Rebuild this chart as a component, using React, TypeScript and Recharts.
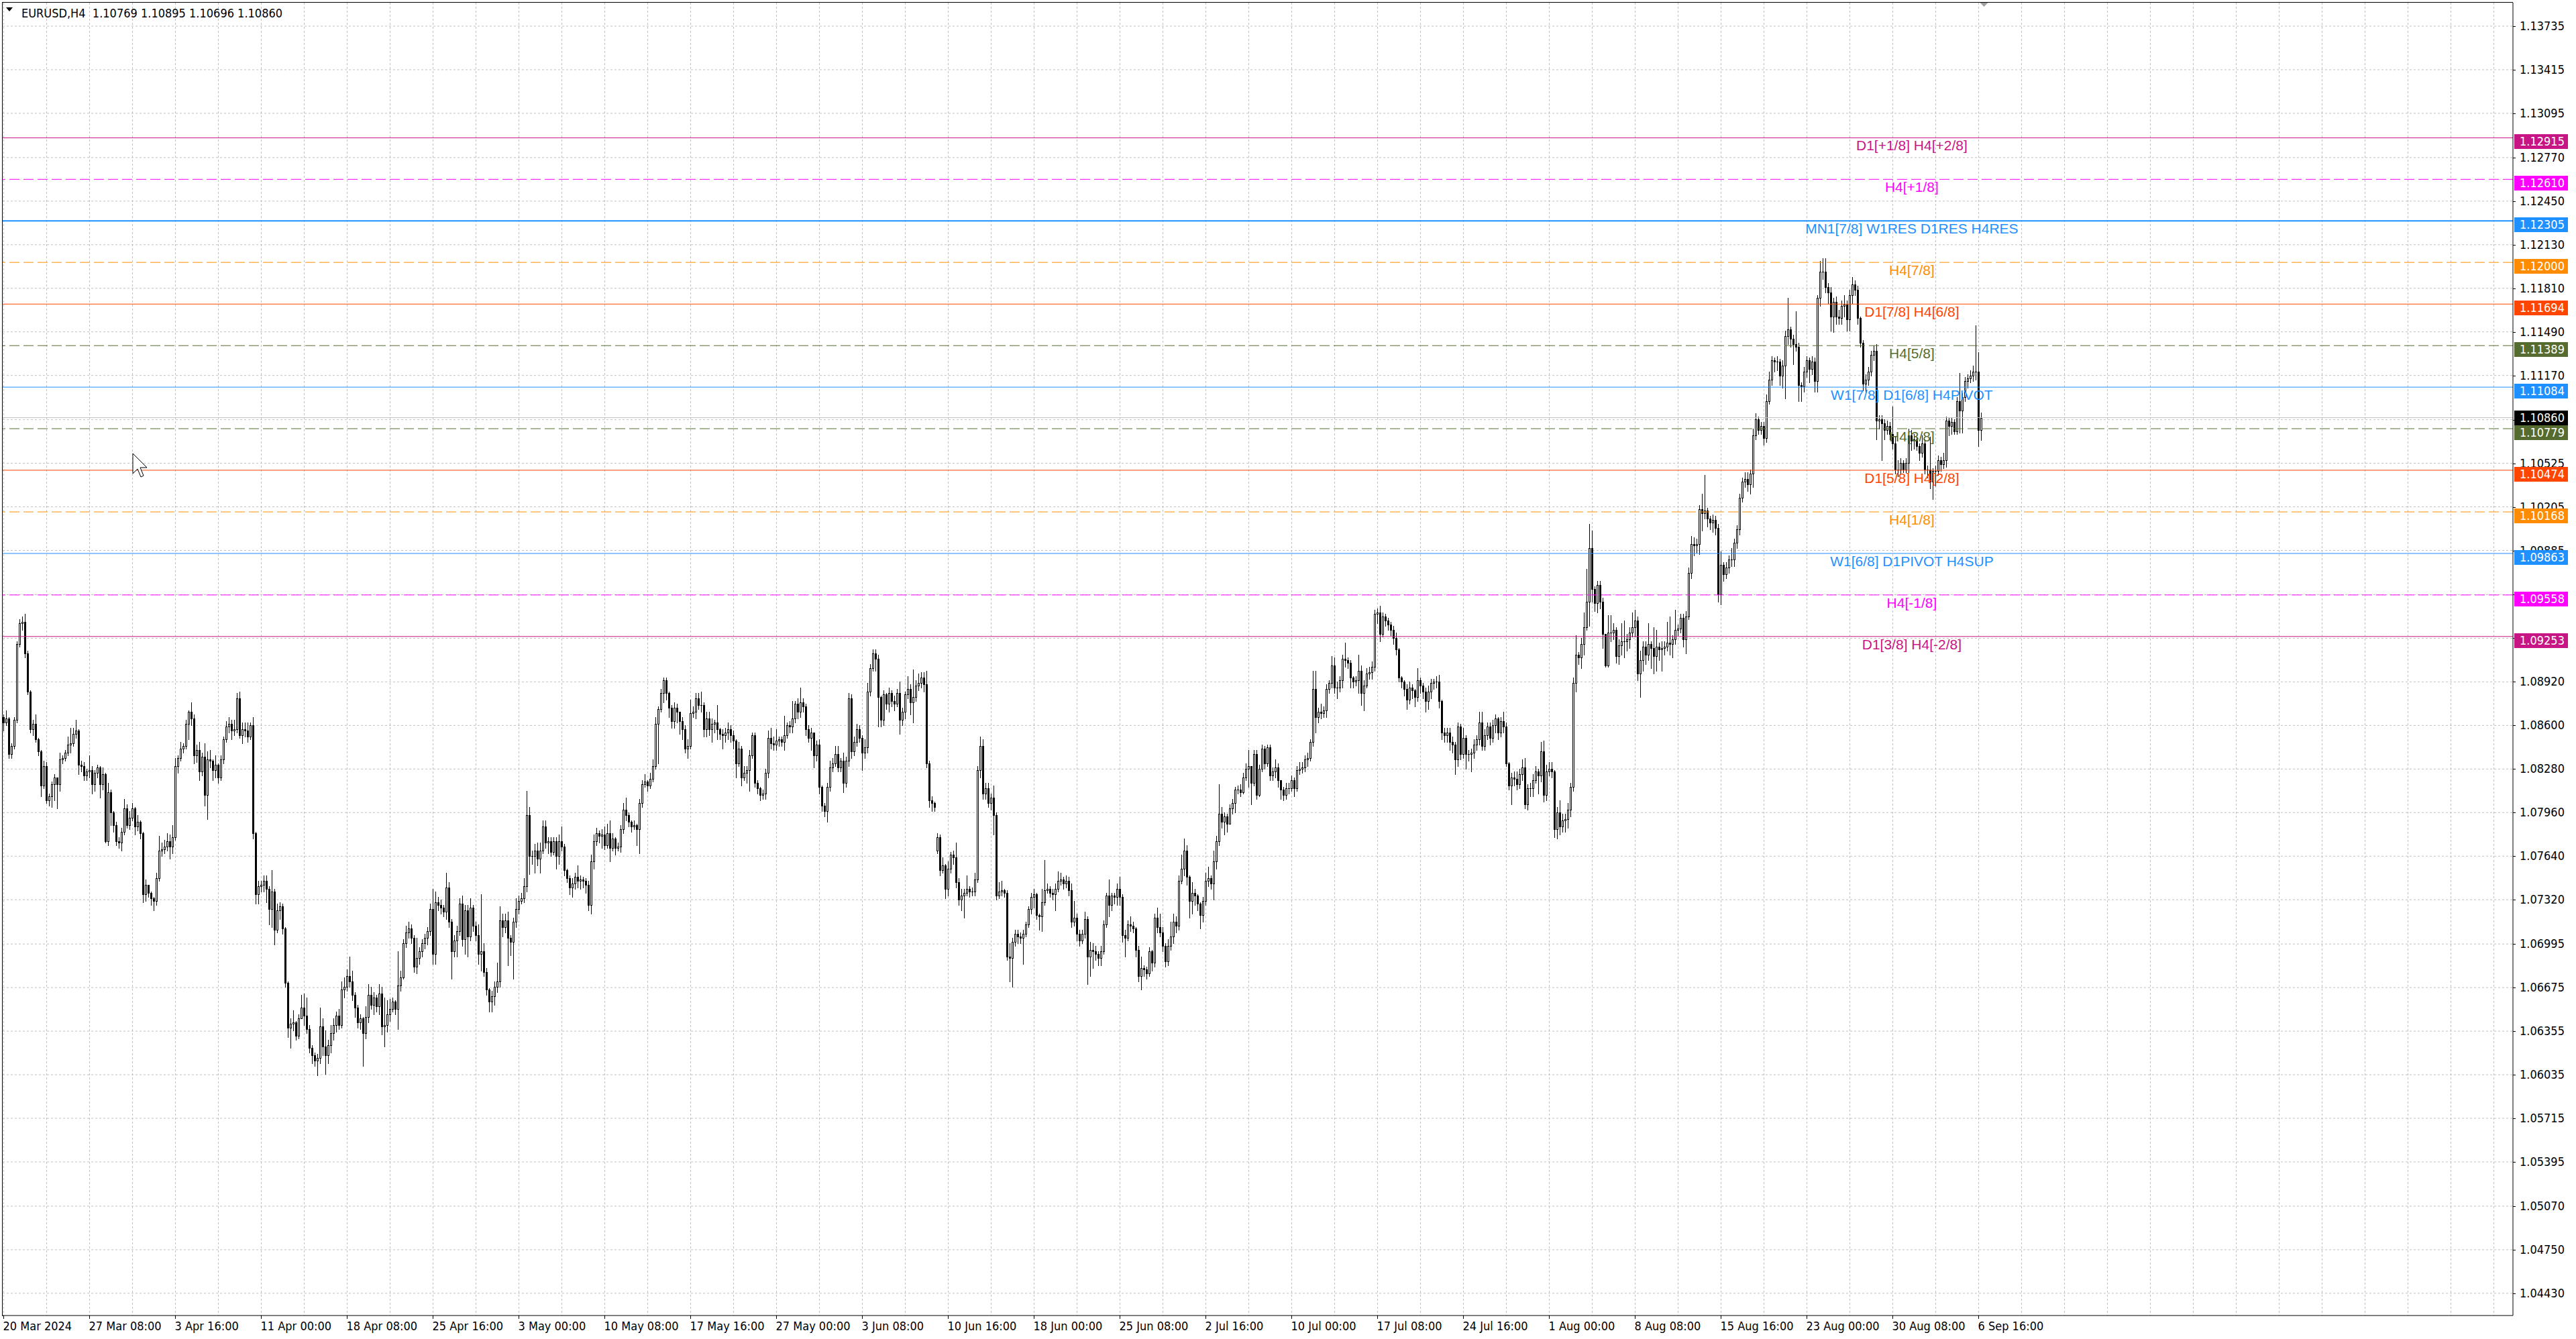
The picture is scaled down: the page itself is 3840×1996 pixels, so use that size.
import React from 'react';
import { ComposedChart, Bar, XAxis, YAxis, CartesianGrid, ReferenceLine, ReferenceDot } from 'recharts';

// ---------- DATA (prices in pips above 1.0000, i.e. 862 = 1.0862) ----------
// EURUSD H4, bar 0 = 20 Mar 2024 00:00, one bar per 4 hours
const closes: number[] = [
  862,865,839,845,864,920,935,936,913,885,857,861,850,841,816,830,
  805,808,817,822,817,835,836,840,846,847,854,856,831,830,823,826,
  827,817,825,829,817,824,775,811,796,787,775,774,782,799,787,792,
  799,786,789,781,736,743,737,733,731,748,768,769,771,775,771,778,
  830,836,843,845,861,870,865,838,842,826,837,809,835,834,827,831,
  822,835,850,859,861,856,857,880,853,857,856,852,860,781,736,742,
  743,746,740,725,738,710,724,727,711,671,638,641,642,632,645,653,
  647,637,623,618,614,616,639,624,618,625,634,640,647,640,666,668,
  676,672,662,653,642,645,634,646,662,655,660,654,663,639,640,648,
  652,657,652,669,675,700,708,711,704,683,689,694,700,704,709,725,
  692,730,728,726,723,741,716,694,702,709,729,703,724,705,726,713,
  706,692,694,679,666,657,661,668,672,717,712,717,704,701,716,725,
  731,733,742,794,764,764,768,762,768,786,774,775,767,775,764,775,
  771,754,748,741,744,749,746,747,746,743,728,760,775,781,779,780,
  772,781,770,777,770,771,784,798,794,789,786,787,784,803,817,819,
  816,821,830,861,872,884,893,884,873,863,873,870,863,857,843,845,
  869,870,880,875,875,857,865,857,861,862,857,854,853,855,857,853,
  849,832,843,822,825,827,838,853,818,814,809,810,825,851,847,846,
  849,850,848,853,860,859,865,876,870,877,874,857,851,855,838,846,
  815,801,797,815,829,832,839,829,834,818,834,880,841,848,857,851,
  840,844,885,902,913,909,881,864,883,876,884,878,876,884,864,870,
  883,887,877,881,889,891,895,890,832,805,803,800,778,754,757,740,
  755,765,763,745,732,735,737,740,738,738,747,827,845,810,814,803,
  807,794,735,738,739,737,690,689,701,707,705,704,707,714,725,734,
  736,721,720,730,739,740,737,736,740,746,747,744,746,739,716,719,
  707,702,707,718,690,695,694,692,689,694,714,735,728,735,734,740,
  734,706,704,714,713,711,695,676,682,681,678,694,686,719,712,708,
  698,687,698,705,716,713,746,755,768,749,731,737,735,729,721,731,
  746,748,744,760,775,795,789,793,788,799,803,813,813,811,822,828,
  830,818,839,809,828,843,832,844,823,826,829,820,813,809,814,814,
  820,814,827,828,829,835,836,848,887,866,870,869,871,887,891,904,
  888,888,893,909,908,906,895,892,893,900,884,889,898,899,903,942,
  943,927,940,937,934,930,924,916,895,892,887,879,888,886,881,893,
  889,885,878,885,891,892,892,878,855,853,855,848,846,835,859,839,
  851,839,839,840,846,850,862,845,853,859,851,860,865,855,863,859,
  832,816,822,821,817,824,829,802,814,814,820,826,823,841,809,826,
  828,826,784,796,786,790,791,798,815,891,912,910,920,932,951,990,
  960,950,963,951,927,904,928,928,930,911,919,922,922,923,928,932,
  937,898,908,918,912,920,917,911,918,916,917,918,921,920,923,930,
  931,939,923,940,972,993,992,993,1019,1016,1018,1012,1009,1011,1005,956,
  978,971,976,982,982,994,1004,1027,1039,1041,1037,1045,1073,1085,1077,1080,
  1071,1098,1114,1128,1127,1127,1117,1124,1146,1151,1144,1140,1138,1110,1109,1120,
  1128,1122,1127,1113,1174,1193,1193,1182,1178,1160,1171,1160,1159,1168,1169,1158,
  1176,1184,1180,1159,1141,1111,1114,1120,1132,1135,1084,1085,1082,1077,1080,1074,
  1067,1048,1048,1053,1048,1053,1073,1069,1070,1065,1060,1067,1048,1048,1039,1047,
  1047,1055,1052,1055,1084,1080,1083,1076,1098,1091,1101,1113,1115,1117,1120,1120,
  1076.9,1086.0,
];

const highs: number[] = [
  868,871,866,847,866,922,938,940,942,915,886,864,868,851,842,834,
  833,810,819,824,822,840,838,842,852,858,858,864,857,834,833,828,
  838,830,827,831,830,829,825,818,813,797,789,778,785,806,802,797,
  803,800,794,790,782,747,743,738,734,752,779,774,776,781,780,787,
  836,838,848,847,864,871,877,868,846,848,840,847,841,842,835,838,
  832,838,852,863,866,864,864,884,885,862,862,862,862,866,782,746,
  746,750,750,742,754,740,729,730,729,712,672,645,651,643,648,662,
  663,660,640,625,620,619,653,645,636,629,640,645,650,652,672,675,
  681,690,680,664,655,648,646,654,670,668,664,662,670,668,660,658,
  659,660,658,694,680,703,713,716,714,706,704,697,703,707,712,729,
  740,738,734,732,728,752,745,718,706,713,733,735,728,728,733,728,
  716,714,736,700,682,667,665,672,686,727,722,722,723,706,719,733,
  735,737,748,812,800,768,773,774,774,790,790,778,778,778,778,780,
  786,773,755,750,748,752,757,750,749,748,746,765,780,785,783,784,
  786,788,790,781,778,774,787,803,807,796,790,790,788,806,820,824,
  820,825,835,866,874,887,895,895,885,875,877,876,870,866,860,850,
  879,874,884,884,885,877,870,870,865,864,875,858,857,858,862,860,
  856,850,848,845,830,830,842,855,855,820,815,813,828,856,858,852,
  857,852,852,867,862,863,878,878,880,888,880,876,860,858,855,849,
  850,816,803,818,834,836,845,845,836,840,837,884,883,852,861,860,
  853,850,891,905,916,916,912,882,886,884,888,886,882,887,892,873,
  885,896,890,901,893,898,899,899,900,834,808,804,781,780,763,758,
  760,767,768,774,748,740,740,750,742,741,752,830,852,850,818,818,
  810,816,796,745,746,740,739,700,704,710,710,708,710,716,727,737,
  740,737,722,740,761,744,742,740,744,753,752,749,750,749,744,731,
  722,710,710,723,720,701,700,698,694,698,717,737,747,737,737,744,
  749,736,710,717,720,716,712,698,690,684,683,697,695,722,726,722,
  712,700,703,716,722,720,750,765,777,772,750,745,740,736,730,734,
  752,756,750,768,779,817,800,796,795,802,806,815,816,817,825,832,
  842,830,842,842,831,846,845,846,846,829,835,832,820,815,818,818,
  823,822,830,833,833,838,840,850,900,900,873,876,874,890,893,911,
  910,892,896,912,921,910,908,896,896,912,904,893,902,903,907,945,
  946,948,943,942,939,936,933,928,917,896,893,890,892,890,887,902,
  895,891,888,889,894,894,896,897,879,858,858,858,852,848,862,861,
  858,853,842,843,850,853,870,870,857,862,862,864,868,866,866,870,
  862,833,825,826,826,828,835,836,817,818,824,830,828,848,849,831,
  833,833,827,800,805,795,795,803,818,895,926,914,924,943,975,1008,
  1003,962,966,966,954,927,941,941,935,932,923,935,937,927,932,943,
  945,940,915,922,922,935,922,932,930,921,922,922,936,940,926,945,
  934,942,942,944,976,999,998,997,1022,1030,1044,1020,1014,1015,1014,1008,
  988,980,980,985,990,997,1007,1030,1042,1046,1046,1048,1078,1089,1087,1083,
  1083,1103,1120,1131,1130,1131,1129,1128,1150,1174,1153,1147,1164,1141,1112,1123,
  1131,1130,1131,1130,1176,1201,1203,1203,1185,1182,1174,1175,1165,1172,1176,1172,
  1180,1189,1187,1183,1160,1143,1118,1123,1135,1139,1140,1088,1088,1085,1084,1083,
  1094,1072,1055,1056,1055,1056,1078,1077,1074,1072,1067,1073,1070,1051,1072,1049,
  1051,1058,1057,1060,1087,1086,1086,1085,1101,1119,1104,1116,1118,1121,1124,1154,
  1134,1089.5,
];

const lows: number[] = [
  856,860,836,836,843,862,918,930,910,883,855,853,848,838,808,814,
  803,801,800,805,799,812,832,834,838,840,845,851,824,826,820,820,
  822,810,812,822,807,813,774,772,787,782,772,770,768,780,785,784,
  790,780,783,777,730,731,734,728,724,728,746,764,766,768,762,766,
  776,825,834,840,843,850,860,832,833,820,823,801,791,829,820,822,
  818,820,832,848,855,850,853,855,851,847,852,848,850,777,729,729,
  738,738,730,714,712,699,708,718,707,668,631,623,636,629,630,648,
  640,634,620,612,610,603,612,618,604,612,620,629,635,637,638,660,
  665,668,658,646,638,637,610,630,642,652,648,650,648,633,624,635,
  643,650,648,637,665,674,697,704,700,679,678,685,690,696,699,706,
  685,685,724,722,720,718,712,674,690,690,706,698,692,690,702,709,
  702,685,680,676,662,650,650,655,664,668,705,708,684,691,674,712,
  722,729,730,738,751,758,752,757,752,766,770,766,764,765,755,758,
  768,750,745,736,734,740,741,740,741,737,724,722,755,772,774,770,
  769,770,760,768,765,768,767,781,790,786,782,784,772,766,800,815,
  812,814,819,828,832,870,877,879,866,858,858,862,854,850,840,836,
  843,866,865,872,870,852,852,853,848,855,850,850,843,848,850,848,
  843,822,830,816,820,818,812,836,815,810,805,806,806,822,843,842,
  842,845,845,842,851,855,855,862,865,866,870,853,848,842,829,834,
  810,797,793,789,812,826,830,826,826,811,815,830,836,838,845,848,
  827,836,840,882,900,900,859,859,860,872,870,874,871,874,854,860,
  865,880,868,862,878,886,888,885,829,800,797,797,766,750,752,733,
  735,752,758,741,728,724,719,735,734,735,735,745,822,806,806,800,
  798,780,732,733,735,734,688,672,668,698,700,700,685,705,712,722,
  726,718,710,709,728,737,734,732,724,738,743,740,741,735,712,713,
  702,698,700,704,670,676,682,688,684,684,692,712,720,724,729,728,
  728,701,690,702,709,708,690,672,666,676,674,676,680,683,708,705,
  694,683,684,695,700,708,710,744,750,743,719,722,728,724,711,716,
  728,742,740,732,755,772,785,780,782,788,795,796,810,808,810,820,
  815,802,816,806,808,826,828,830,820,820,822,815,806,805,806,810,
  812,808,812,824,825,826,830,834,845,855,862,865,866,866,884,888,
  884,880,885,888,903,902,888,888,889,884,875,871,888,894,894,900,
  935,922,925,933,930,926,920,912,892,888,882,872,876,880,874,878,
  884,880,870,872,880,887,888,873,850,848,848,842,840,824,830,835,
  836,828,834,826,836,842,846,842,842,850,846,848,855,850,852,855,
  830,813,802,816,813,814,820,799,798,808,808,818,810,819,804,805,
  823,822,778,777,780,782,782,785,793,812,885,905,902,912,930,933,
  951,944,943,946,917,903,903,922,923,906,905,912,910,915,917,925,
  925,893,881,900,905,908,902,898,900,908,900,912,915,912,910,920,
  926,928,918,913,938,968,985,987,986,1003,1012,1006,1004,1002,1000,951,
  949,966,968,972,977,977,990,1000,1024,1035,1032,1030,1035,1070,1074,1074,
  1066,1068,1096,1110,1120,1121,1110,1108,1100,1140,1138,1125,1135,1098,1098,1105,
  1116,1112,1118,1105,1105,1168,1188,1178,1170,1150,1149,1155,1155,1155,1160,1150,
  1150,1170,1176,1155,1138,1106,1105,1110,1117,1128,1070,1078,1055,1070,1074,1070,
  1063,1045,1043,1045,1046,1046,1046,1062,1063,1062,1055,1057,1045,1042,1034,1026,
  1036,1044,1047,1049,1050,1073,1074,1074,1074,1075,1075,1098,1108,1112,1113,1114,
  1065,1069.6,
];

// bars whose open is not the previous close (first bar, weekend gap, live bar)
const openOverrides: [number, number][] = [[0, 866], [348, 768], [737, 1076.9]];

// time-axis labels, one every 32 bars
const timeLabels: string[] = [
  '20 Mar 2024', '27 Mar 08:00', '3 Apr 16:00', '11 Apr 00:00', '18 Apr 08:00', '25 Apr 16:00',
  '3 May 00:00', '10 May 08:00', '17 May 16:00', '27 May 00:00', '3 Jun 08:00', '10 Jun 16:00',
  '18 Jun 00:00', '25 Jun 08:00', '2 Jul 16:00', '10 Jul 00:00', '17 Jul 08:00', '24 Jul 16:00',
  '1 Aug 00:00', '8 Aug 08:00', '15 Aug 16:00', '23 Aug 00:00', '30 Aug 08:00', '6 Sep 16:00',
];

const priceTicks: number[] = [
  1.13735, 1.13415, 1.13095, 1.1277, 1.1245, 1.1213, 1.1181, 1.1149, 1.1117, 1.10845,
  1.10525, 1.10205, 1.09885, 1.0956, 1.0924, 1.0892, 1.086, 1.0828, 1.0796, 1.0764,
  1.0732, 1.06995, 1.06675, 1.06355, 1.06035, 1.05715, 1.05395, 1.0507, 1.0475, 1.0443,
];

// Murrey-math levels
const levelPrices: number[] = [
  1.12915, 1.1261, 1.12305, 1.12, 1.11694, 1.11389, 1.11084, 1.10779, 1.10474, 1.10168, 1.09863, 1.09558, 1.09253,
];
const levelNames: string[] = [
  'D1[+1/8] H4[+2/8]', 'H4[+1/8]', 'MN1[7/8] W1RES D1RES H4RES', 'H4[7/8]', 'D1[7/8] H4[6/8]', 'H4[5/8]',
  'W1[7/8] D1[6/8] H4PIVOT', 'H4[3/8]', 'D1[5/8] H4[2/8]', 'H4[1/8]', 'W1[6/8] D1PIVOT H4SUP', 'H4[-1/8]', 'D1[3/8] H4[-2/8]',
];
const currentPrice = 1.1086;
const titleText = 'EURUSD,H4  1.10769 1.10895 1.10696 1.10860';

// ---------- STYLE / LAYOUT ----------
const VR = '#C71585', MG = '#FF00FF', DB = '#1E90FF', DO = '#FF8C00', OR = '#FF4500', OG = '#556B2F';
const levelStyles: { color: string; dash?: string; width: number }[] = [
  { color: VR, width: 1 }, { color: MG, dash: '15 6', width: 1 }, { color: DB, width: 2 },
  { color: DO, dash: '15 6', width: 1 }, { color: OR, width: 1 }, { color: OG, dash: '15 6', width: 1 },
  { color: DB, width: 1 }, { color: OG, dash: '15 6', width: 1 }, { color: OR, width: 1 },
  { color: DO, dash: '15 6', width: 1 }, { color: DB, width: 1 }, { color: MG, dash: '15 6', width: 1 },
  { color: VR, width: 1 },
];

const W = 3840, H = 1996;
const M_TOP = 4, M_LEFT = 4, Y_AXIS_W = 94, X_AXIS_H = 35;
const PLOT_H = H - M_TOP - X_AXIS_H;
const X_MIN = -0.375, X_MAX = 935.125;
const Y_MIN = 1.042668, Y_MAX = 1.139072;
const PX_PER_UNIT = PLOT_H / (Y_MAX - Y_MIN);
const LABEL_BAR = 711.1;
const BOX_H = 22;
const LEVEL_BOX_OFFSET = 6;
const AXIS_FONT = "'DejaVu Sans Condensed', 'DejaVu Sans', sans-serif";
const AXIS_FS = 18;
const LABEL_FONT = "'Liberation Sans', Arial, sans-serif";

const toPrice = (p: number) => 1 + p / 10000;

const candleData = closes.map((c, i) => {
  const ov = openOverrides.find((e) => e[0] === i);
  const o = ov ? ov[1] : i > 0 ? closes[i - 1] : c;
  const h = Math.max(highs[i] ?? c, o, c);
  const l = Math.min(lows[i] ?? c, o, c);
  return { i, o: toPrice(o), c: toPrice(c), h: toPrice(h), l: toPrice(l), range: [toPrice(l), toPrice(h)] };
});

const xGridTicks: number[] = [];
for (let t = 0; t <= 928; t += 16) xGridTicks.push(t);

// axis ticks: plain price ticks first, then level boxes, current price box last (drawn on top)
const yAxisTicks: number[] = [...priceTicks, ...levelPrices, currentPrice];
const boxPrices: number[] = [...levelPrices, currentPrice];
const boxOffset = (p: number) => (p === currentPrice ? 0 : LEVEL_BOX_OFFSET);

function Candle(props: any) {
  const { x, y, width, height, payload } = props;
  if (!payload || !isFinite(x) || !isFinite(y) || !isFinite(height)) return null;
  const cx = Math.floor(x + width / 2) + 0.5;
  const { o, c, h, l } = payload;
  const top = Math.min(y, y + height);
  const hgt = Math.abs(height);
  const span = h - l || 1e-9;
  const yOf = (p: number) => top + ((h - p) / span) * hgt;
  const yHi = Math.round(top);
  const yLo = Math.round(top + hgt);
  const bTop = Math.round(yOf(Math.max(o, c)));
  const bBot = Math.round(yOf(Math.min(o, c)));
  const bull = c >= o;
  return (
    <g shapeRendering="crispEdges">
      <line x1={cx} x2={cx} y1={yHi} y2={yLo + 1} stroke="#000" strokeWidth={1} />
      {bBot - bTop < 1 ? (
        <line x1={cx - 1.5} x2={cx + 1.5} y1={bTop + 0.5} y2={bTop + 0.5} stroke="#000" strokeWidth={1} />
      ) : (
        <rect x={cx - 1} y={bTop + 0.5} width={2} height={bBot - bTop} fill={bull ? '#fff' : '#000'} stroke="#000" strokeWidth={1} />
      )}
    </g>
  );
}

function XTick(props: any) {
  const { x, y, payload } = props;
  const v = payload?.value;
  if (typeof v !== 'number' || v % 32 !== 0) return null;
  const label = timeLabels[v / 32];
  if (!label) return null;
  const tx = Math.floor(x) + 0.5;
  return (
    <g>
      <line x1={tx} x2={tx} y1={y} y2={y + 5} stroke="#000" />
      <text x={x - 1} y={y + 22} fill="#000" fontFamily={AXIS_FONT} fontSize={AXIS_FS} textAnchor="start">{label}</text>
    </g>
  );
}

function YTick(props: any) {
  const { x, y, payload } = props;
  const v = payload?.value;
  if (typeof v !== 'number' || !isFinite(y)) return null;
  const axisX = x - 10;
  if (boxPrices.includes(v)) {
    const bg = v === currentPrice ? '#000' : levelStyles[levelPrices.indexOf(v)].color;
    const yc = Math.round(y + boxOffset(v));
    return (
      <g>
        <rect x={axisX + 2} y={yc - BOX_H / 2} width={80} height={BOX_H} fill={bg} />
        <text x={x} y={yc + 6} fill="#fff" fontFamily={AXIS_FONT} fontSize={AXIS_FS} textAnchor="start">{v.toFixed(5)}</text>
      </g>
    );
  }
  // hide a plain label that a price box covers almost completely
  const covered = boxPrices.some((p) => Math.abs((v - p) * PX_PER_UNIT + boxOffset(p)) < 8);
  const ty = Math.round(y) + 0.5;
  return (
    <g>
      <line x1={axisX} x2={axisX + 4} y1={ty} y2={ty} stroke="#000" />
      {!covered && (
        <text x={x} y={y + 6} fill="#000" fontFamily={AXIS_FONT} fontSize={AXIS_FS} textAnchor="start">{v.toFixed(5)}</text>
      )}
    </g>
  );
}

function LevelText({ cx, cy, text, color }: any) {
  if (!isFinite(cx) || !isFinite(cy)) return null;
  return (
    <text x={cx} y={cy + 19} fill={color} fontFamily={LABEL_FONT} fontSize={21} textAnchor="middle">{text}</text>
  );
}

function ShiftMarker({ cx, cy }: any) {
  if (!isFinite(cx) || !isFinite(cy)) return null;
  return <polygon points={`${cx - 6},${cy} ${cx + 6},${cy} ${cx},${cy + 6}`} fill="#A0A0A0" />;
}

export default function App() {
  return (
    <div style={{ position: 'relative', width: W, height: H, background: '#fff' }}>
      <style>{'html,body{margin:0;padding:0;background:#fff;}'}</style>
      <ComposedChart
        width={W}
        height={H}
        data={candleData}
        margin={{ top: M_TOP, right: 0, bottom: 0, left: M_LEFT }}
      >
        <CartesianGrid stroke="#C0C0C0" strokeDasharray="3 3" horizontalValues={priceTicks} verticalValues={xGridTicks} />
        <XAxis
          type="number"
          dataKey="i"
          domain={[X_MIN, X_MAX]}
          allowDataOverflow
          ticks={xGridTicks}
          interval={0}
          height={X_AXIS_H}
          tickLine={false}
          tickSize={0}
          tickMargin={0}
          axisLine={{ stroke: '#000' }}
          tick={<XTick />}
        />
        <YAxis
          orientation="right"
          type="number"
          domain={[Y_MIN, Y_MAX]}
          allowDataOverflow
          ticks={yAxisTicks}
          interval={0}
          width={Y_AXIS_W}
          tickSize={0}
          tickMargin={10}
          tickLine={false}
          axisLine={{ stroke: '#000' }}
          tick={<YTick />}
        />
        {levelPrices.map((p, k) => (
          <ReferenceLine
            key={'lv' + k}
            y={p}
            stroke={levelStyles[k].color}
            strokeWidth={levelStyles[k].width}
            strokeDasharray={levelStyles[k].dash}
          />
        ))}
        <ReferenceLine y={currentPrice} stroke="#C0C0C0" strokeWidth={1} />
        {levelPrices.map((p, k) => (
          <ReferenceDot
            key={'lt' + k}
            x={LABEL_BAR}
            y={p}
            r={0}
            shape={(sp: any) => <LevelText {...sp} text={levelNames[k]} color={levelStyles[k].color} />}
          />
        ))}
        <Bar dataKey="range" barSize={3} isAnimationActive={false} shape={(p: any) => <Candle {...p} />} />
        <ReferenceDot x={738} y={Y_MAX} r={0} shape={(sp: any) => <ShiftMarker {...sp} />} />
      </ComposedChart>
      <svg
        width={W}
        height={H}
        style={{ position: 'absolute', left: 0, top: 0, pointerEvents: 'none' }}
      >
        <line x1={3.5} x2={3.5} y1={3} y2={1962} stroke="#000" />
        <line x1={3} x2={3746} y1={3.5} y2={3.5} stroke="#000" />
        <polygon points="9,11 19,11 14,17" fill="#000" />
        <text x={32} y={26} fill="#000" fontFamily={AXIS_FONT} fontSize={AXIS_FS} style={{ whiteSpace: 'pre' }}>{titleText}</text>
        <path
          d="M198,676 L198,706 L205,699 L210,711 L214,709 L209,697 L219,697 Z"
          fill="#fff"
          stroke="#000"
          strokeWidth={1}
        />
      </svg>
    </div>
  );
}
